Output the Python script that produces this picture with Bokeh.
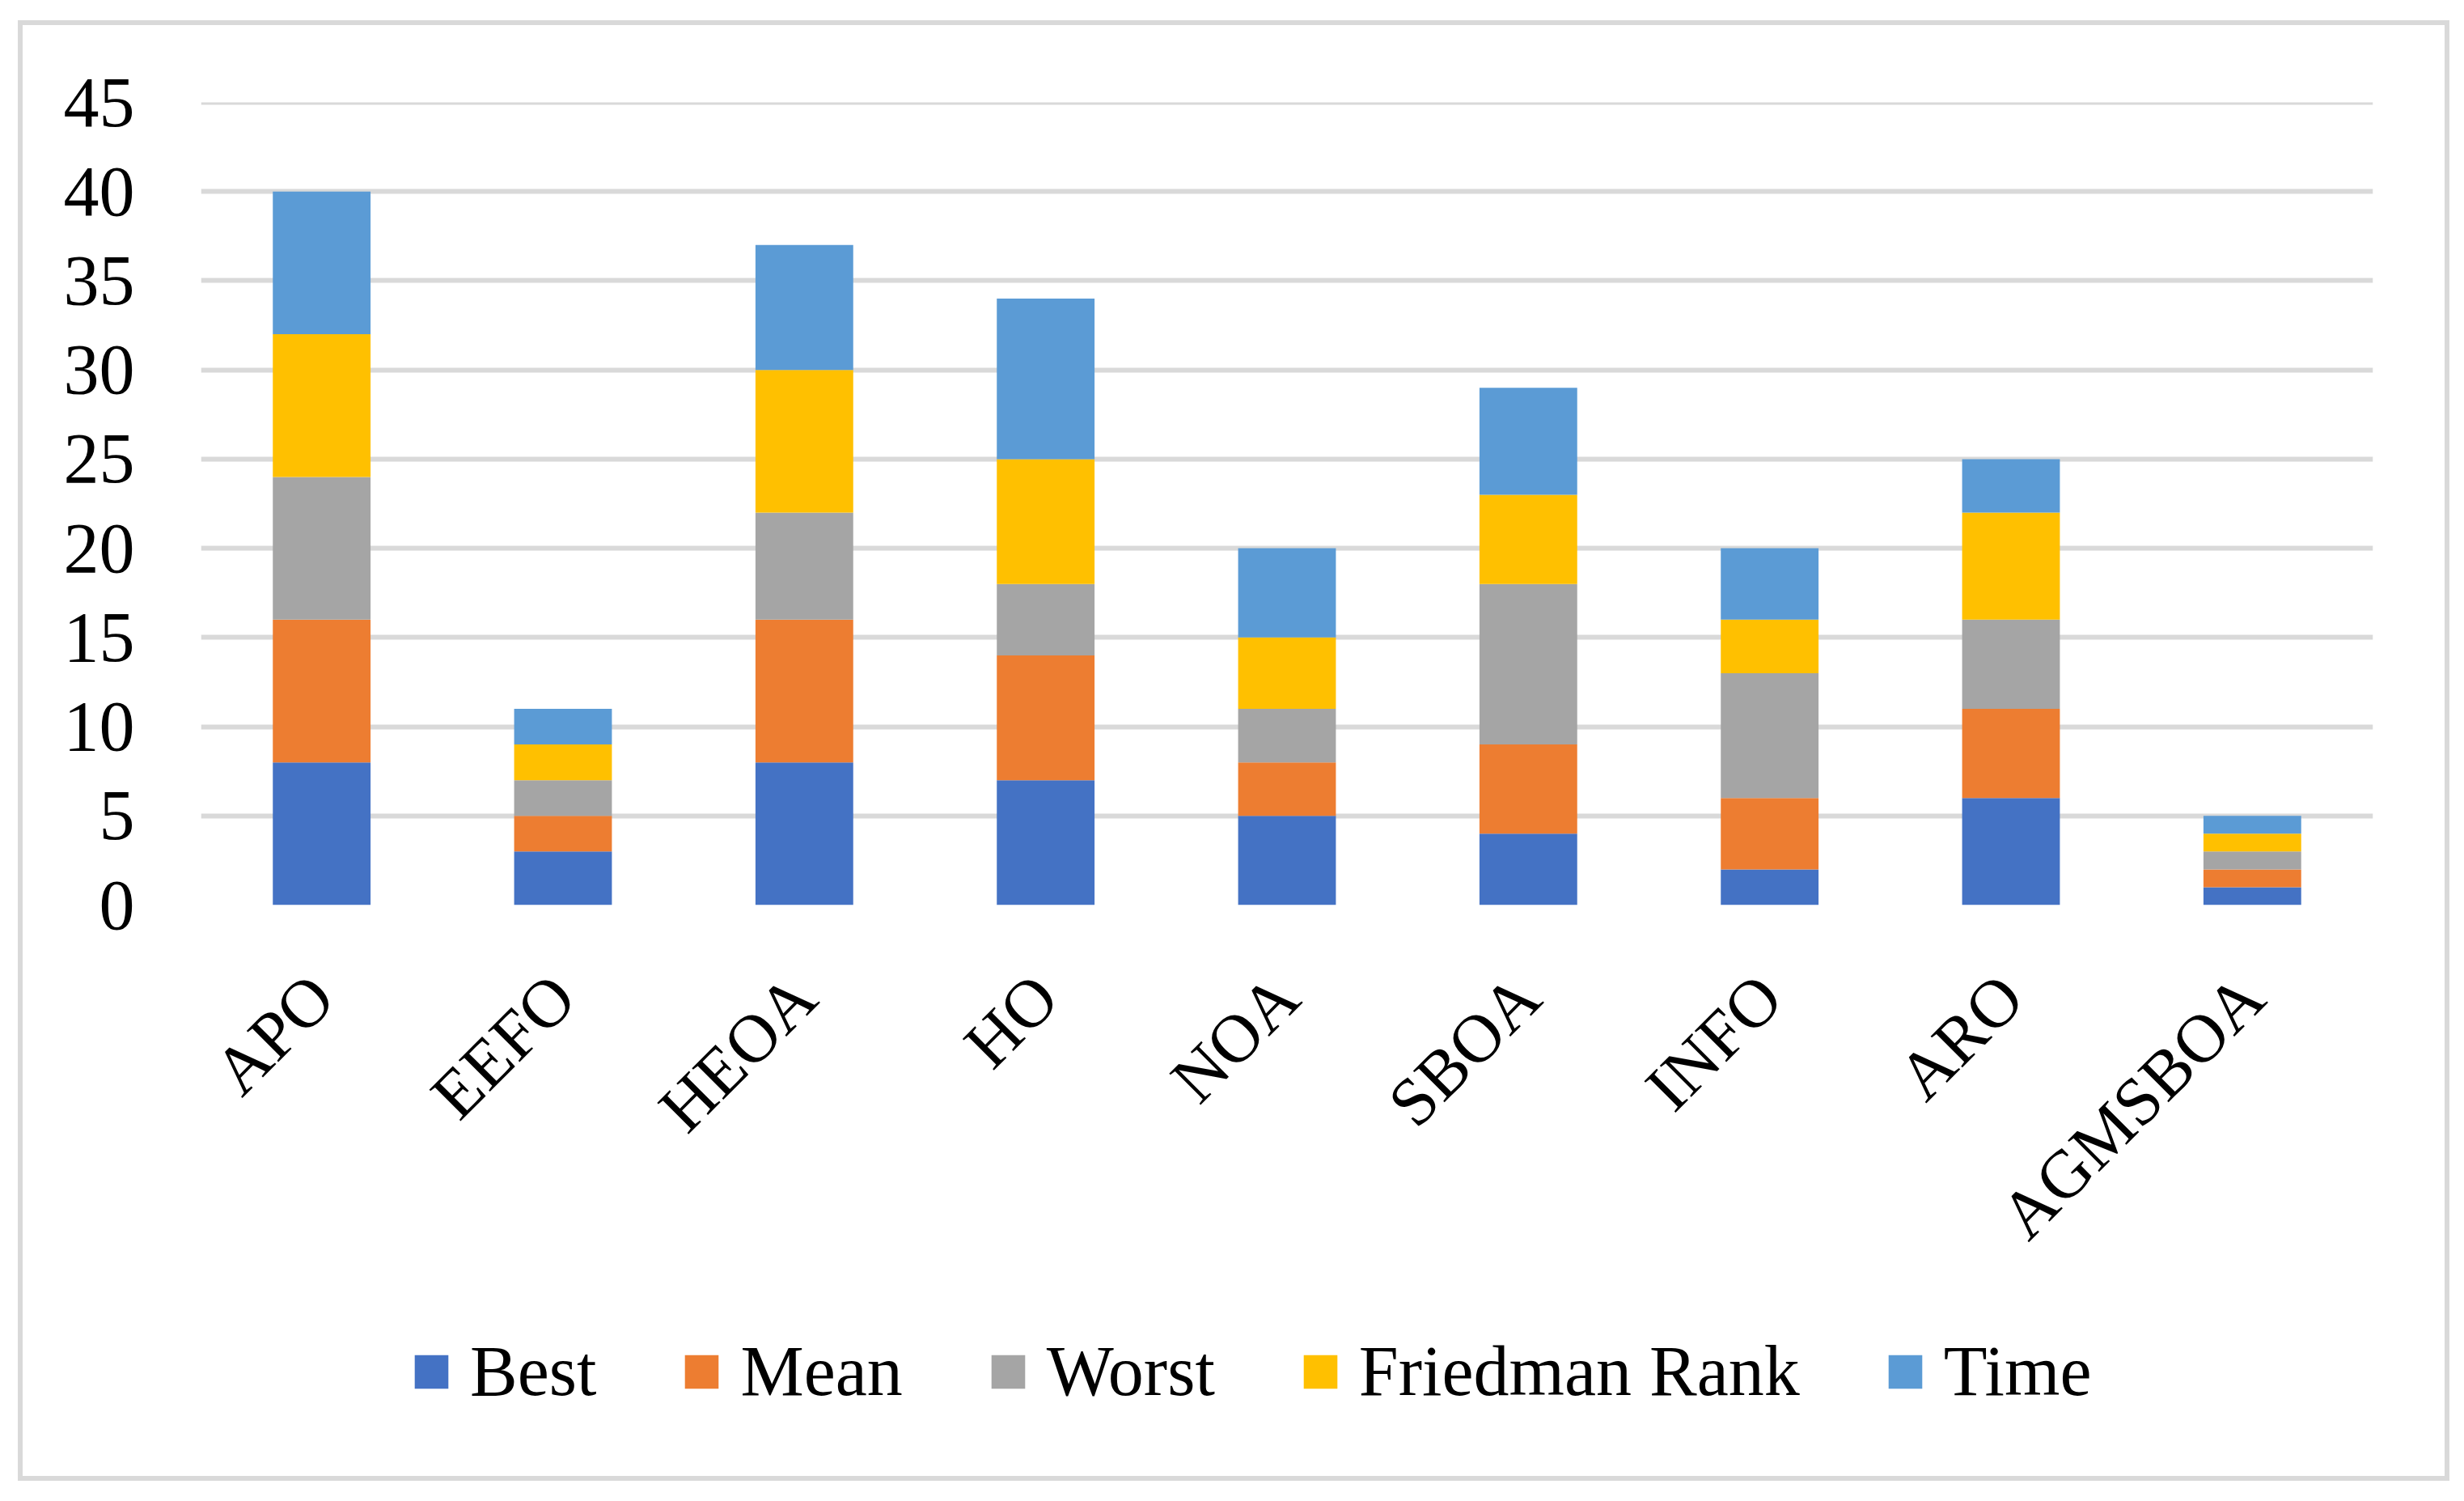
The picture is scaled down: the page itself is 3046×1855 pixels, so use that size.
import math
from bokeh.plotting import figure
from bokeh.models import Range1d, Legend, SingleIntervalTicker, Spacer
from bokeh.layouts import column, row
from bokeh.embed import file_html
from bokeh.resources import INLINE

categories = ["APO", "EEFO", "HEOA", "HO", "NOA", "SBOA", "INFO", "ARO", "AGMSBOA"]
series_names = ["Best", "Mean", "Worst", "Friedman Rank", "Time"]
best = [8, 3, 8, 7, 5, 4, 2, 6, 1]
mean = [8, 2, 8, 7, 3, 5, 4, 5, 1]
worst = [8, 2, 6, 4, 3, 9, 7, 5, 1]
friedman = [8, 2, 8, 7, 4, 5, 3, 6, 1]
time_ = [8, 2, 7, 9, 5, 6, 4, 3, 1]
colors = ["#4472C4", "#ED7D31", "#A5A5A5", "#FFC000", "#5B9BD5"]

FONT = "Liberation Serif"
W = 2994

data = {"cat": categories, "Best": best, "Mean": mean, "Worst": worst,
        "Friedman Rank": friedman, "Time": time_}

p = figure(x_range=categories, y_range=Range1d(0, 45.001),
           width=W, height=1580,
           output_backend="svg", toolbar_location=None,
           min_border_left=220, min_border_right=89,
           min_border_top=95, min_border_bottom=493)
p.outline_line_color = None
p.background_fill_color = "white"
p.border_fill_color = "white"
p.x_range.range_padding = 0

rs = p.vbar_stack(series_names, x="cat", width=0.405, color=colors, source=data,
                  line_color=None)

p.yaxis.ticker = SingleIntervalTicker(interval=5)
p.yaxis.axis_line_color = None
p.yaxis.major_tick_line_color = None
p.yaxis.minor_tick_line_color = None
p.yaxis.major_tick_in = 0
p.yaxis.major_tick_out = 0
p.yaxis.major_label_standoff = 78
p.yaxis.major_label_text_font = FONT
p.yaxis.major_label_text_font_size = "88px"
p.yaxis.major_label_text_color = "black"

p.xaxis.axis_line_color = None
p.xaxis.major_tick_line_color = None
p.xaxis.minor_tick_line_color = None
p.xaxis.major_tick_in = 0
p.xaxis.major_tick_out = 0
p.xaxis.major_label_orientation = math.pi / 4
p.xaxis.major_label_standoff = 100
p.xaxis.major_label_text_font = FONT
p.xaxis.major_label_text_font_size = "84px"
p.xaxis.major_label_text_color = "black"

p.xgrid.grid_line_color = None
p.ygrid.grid_line_color = "#D9D9D9"
p.ygrid.grid_line_width = 6

# legend strip (separate figure so the legend is not clipped by the frame)
p2 = figure(x_range=Range1d(0, 1), y_range=Range1d(0, 1), width=W, height=213,
            output_backend="svg", toolbar_location=None,
            x_axis_type=None, y_axis_type=None,
            min_border_left=220, min_border_right=89, min_border_top=0, min_border_bottom=0)
p2.outline_line_color = None
p2.xgrid.grid_line_color = None
p2.ygrid.grid_line_color = None
p2.border_fill_color = "white"
p2.background_fill_color = "white"
# hidden swatch renderers, used only for the legend keys
leg_rs = []
for c in colors:
    r = p2.vbar(x=[0.5], top=[0.5], bottom=[0.5], width=0.1, color=c, line_color=None)
    r.visible = False
    leg_rs.append(r)
legend = Legend(items=[(n, [r]) for n, r in zip(series_names, leg_rs)],
                orientation="horizontal", location=(259, 79),
                glyph_width=52, glyph_height=52, label_standoff=22, spacing=104,
                padding=0, margin=0, border_line_color=None,
                background_fill_alpha=0, inactive_fill_alpha=0,
                label_text_font=FONT, label_text_font_size="88px",
                label_text_color="black")
p2.add_layout(legend, "center")

box = column(p, p2, spacing=0, styles={"border": "6px solid #D9D9D9"})
layout = column(Spacer(height=25), row(Spacer(width=22), box))

open("out.html", "w").write(file_html(layout, INLINE))
